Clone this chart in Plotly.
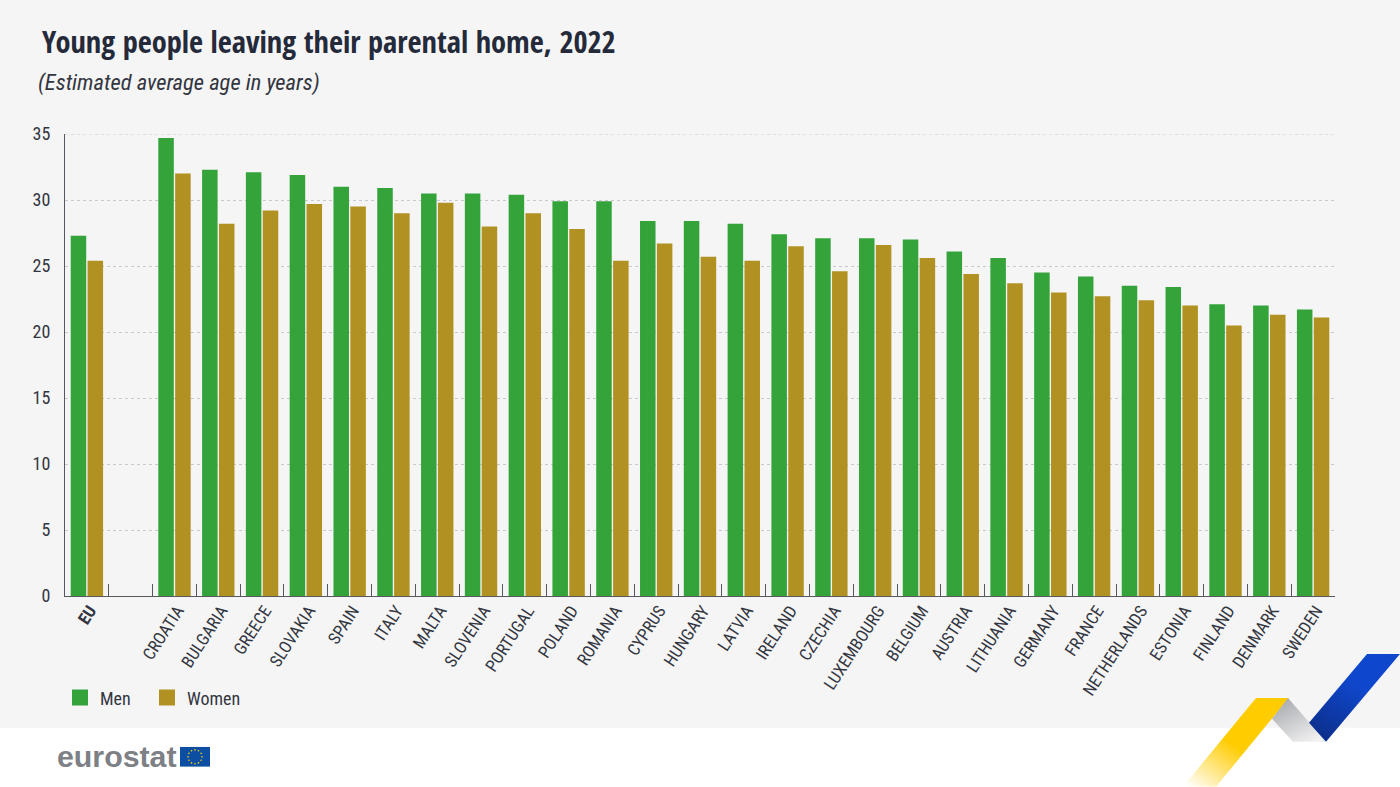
import base64
import math
import plotly.graph_objects as go

countries = ["<b>EU</b>", " ", "CROATIA", "BULGARIA", "GREECE", "SLOVAKIA", "SPAIN", "ITALY", "MALTA",
             "SLOVENIA", "PORTUGAL", "POLAND", "ROMANIA", "CYPRUS", "HUNGARY", "LATVIA", "IRELAND",
             "CZECHIA", "LUXEMBOURG", "BELGIUM", "AUSTRIA", "LITHUANIA", "GERMANY", "FRANCE",
             "NETHERLANDS", "ESTONIA", "FINLAND", "DENMARK", "SWEDEN"]
men = [27.3, None, 34.7, 32.3, 32.1, 31.9, 31.0, 30.9, 30.5, 30.5, 30.4, 29.9, 29.9, 28.4, 28.4, 28.2,
       27.4, 27.1, 27.1, 27.0, 26.1, 25.6, 24.5, 24.2, 23.5, 23.4, 22.1, 22.0, 21.7]
women = [25.4, None, 32.0, 28.2, 29.2, 29.7, 29.5, 29.0, 29.8, 28.0, 29.0, 27.8, 25.4, 26.7, 25.7, 25.4,
         26.5, 24.6, 26.6, 25.6, 24.4, 23.7, 23.0, 22.7, 22.4, 22.0, 20.5, 21.3, 21.1]
y_ticks = [0, 5, 10, 15, 20, 25, 30, 35]

W, H = 1400, 787
L, R, T, B = 65, 1335, 133.5, 596
PW, PH = R - L, B - T
FONT = "Roboto Condensed"
INK = "#33363f"
GREEN = "#33a33a"
GOLD = "#b09121"
GRID = "#c8c9cc"
GRID_DASH = "3px,3px"


def px(x):
    return (x - L) / PW


def py(y):
    return (B - y) / PH


def svg_uri(svg):
    return "data:image/svg+xml;base64," + base64.b64encode(svg.encode()).decode()


ribbon = """<svg xmlns="http://www.w3.org/2000/svg" width="250" height="147" viewBox="0 0 250 147">
<defs>
<linearGradient id="y" x1="0.05" y1="1" x2="0.6" y2="0.35"><stop offset="0" stop-color="#ffcc00" stop-opacity="0"/><stop offset="0.75" stop-color="#ffcc00"/></linearGradient>
<linearGradient id="g" x1="0.1" y1="0" x2="0.75" y2="1"><stop offset="0" stop-color="#a4a6aa"/><stop offset="1" stop-color="#f1f1f2"/></linearGradient>
<linearGradient id="b" x1="0.2" y1="1" x2="0.6" y2="0.4"><stop offset="0" stop-color="#0c2f8c"/><stop offset="1" stop-color="#0f47cc"/></linearGradient>
</defs>
<polygon points="106,58 139,58 66,147 33,147" fill="url(#y)"/>
<polygon points="138,58 176,102 143,102 122,79" fill="url(#g)"/>
<polygon points="217,14 250,14 176,102 159,83" fill="url(#b)"/>
</svg>"""

stars = "".join(
    '<circle cx="{:.1f}" cy="{:.1f}" r="0.8" fill="#ffd400"/>'.format(
        15 + 7 * math.cos(i * math.pi / 6), 10 + 7 * math.sin(i * math.pi / 6))
    for i in range(12))
flag = ('<svg xmlns="http://www.w3.org/2000/svg" width="30" height="20" viewBox="0 0 30 20">'
        '<rect width="30" height="20" fill="#0b4ea2"/>' + stars + "</svg>")

fig = go.Figure()
fig.add_bar(x=countries, y=men, marker_color=GREEN, marker_line_width=0, showlegend=False, name="Men")
fig.add_bar(x=countries, y=women, marker_color=GOLD, marker_line_width=0, showlegend=False, name="Women")
# legend keys: square markers of the reference's size
fig.add_scatter(x=[None], y=[None], mode="markers", name="Men", legend="legend",
                marker=dict(symbol="square", size=16, color=GREEN))
fig.add_scatter(x=[None], y=[None], mode="markers", name="Women", legend="legend2",
                marker=dict(symbol="square", size=16, color=GOLD))

legend_common = dict(orientation="h", xanchor="left", yanchor="middle", bgcolor="rgba(0,0,0,0)",
                     font=dict(size=18, color=INK), itemwidth=30,
                     itemclick=False, itemdoubleclick=False)

fig.update_layout(
    width=W, height=H,
    margin=dict(l=L, r=W - R, t=T, b=H - B, pad=0, autoexpand=False),
    paper_bgcolor="#f5f5f6", plot_bgcolor="rgba(0,0,0,0)",
    barmode="group", bargap=0.23, bargroupgap=0.08,
    font=dict(family=FONT, color=INK, size=19),
    showlegend=True,
    legend=dict(x=px(60), y=py(698), **legend_common),
    legend2=dict(x=px(147), y=py(698), **legend_common),
    xaxis=dict(type="category", categoryorder="array", categoryarray=countries,
               tickmode="array", tickvals=countries, ticktext=countries,
               tickson="boundaries", ticks="inside", ticklen=12, tickwidth=1, tickcolor="#55585f",
               tickangle=-57, tickfont=dict(size=17, color=INK), showgrid=False,
               ticklabelstandoff=-3, ticklabelshift=3,
               showline=True, linecolor="#55585f", linewidth=1.2, fixedrange=True),
    yaxis=dict(range=[0, 35], tickmode="array", tickvals=y_ticks, ticks="", ticklabelstandoff=10,
               tickfont=dict(size=18, color=INK),
               showgrid=True, gridcolor=GRID, griddash=GRID_DASH, gridwidth=1,
               showline=True, linecolor="#55585f", linewidth=1.2, zeroline=False, fixedrange=True),
    shapes=[
        dict(type="rect", xref="paper", yref="paper", x0=px(-10), x1=px(1410), y0=py(800), y1=py(728),
             fillcolor="#ffffff", line_width=0, layer="below"),
        dict(type="line", xref="paper", yref="y", x0=0, x1=1, y0=y_ticks[-1], y1=y_ticks[-1],
             line=dict(color=GRID, width=1, dash=GRID_DASH), layer="below"),
    ],
    annotations=[
        dict(text="<b>Young people leaving their parental home, 2022</b>", xref="paper", yref="paper",
             x=px(40), y=py(41), xanchor="left", yanchor="middle", showarrow=False,
             font=dict(family="Open Sans Condensed", size=30.4, color="#252a3a")),
        dict(text="<i>(Estimated average age in years)</i>", xref="paper", yref="paper",
             x=px(36), y=py(82), xanchor="left", yanchor="middle", showarrow=False,
             font=dict(size=22.5, color=INK)),
        dict(text="<b>eurostat</b>", xref="paper", yref="paper",
             x=px(55), y=py(757), xanchor="left", yanchor="middle", showarrow=False,
             font=dict(family="Liberation Sans", size=30.3, color="#7d8084")),
    ],
    images=[
        dict(source=svg_uri(ribbon), xref="paper", yref="paper", x=px(1150), y=py(640),
             sizex=250 / PW, sizey=147 / PH, xanchor="left", yanchor="top", sizing="stretch", layer="above"),
        dict(source=svg_uri(flag), xref="paper", yref="paper", x=px(180), y=py(747),
             sizex=30 / PW, sizey=20 / PH, xanchor="left", yanchor="top", sizing="stretch", layer="above"),
    ],
)

fig.write_html("out.html", config={"displayModeBar": False},
               post_script="document.body.style.margin='0';")
